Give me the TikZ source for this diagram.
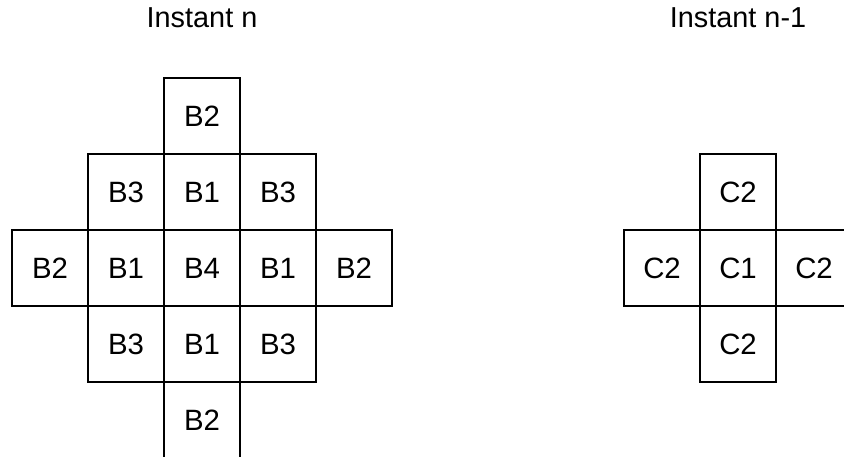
\documentclass[tikz,border=0pt]{standalone}
\usepackage{fontspec}
\setmainfont{Liberation Sans}
\usepackage{tikz}
\usetikzlibrary{positioning}
\tikzstyle{cell} = [rectangle, draw, line width=0.75pt, minimum size=1cm, inner sep=0pt, outer sep=0pt, font=\fontsize{11}{13}\selectfont]
\tikzstyle{title} = [font=\fontsize{10.8}{13}\selectfont]

\begin{document}
\begin{tikzpicture}[node distance = 0cm]
    \useasboundingbox (0,0) rectangle (11.105,6.039);
    % bottom row runs off the page
    \clip (0,0.03) rectangle (11.105,6.039);

    % Current instant
    \node [cell] (b4) at (2.658,2.513) {B4};
    \node [cell, above=of b4] (b1n) {B1};
    \node [cell, below=of b4] (b1s) {B1};
    \node [cell, left=of b4] (b1w) {B1};
    \node [cell, right=of b4] (b1e) {B1};
    \node [cell, above=of b1n] (b2n) {B2};
    \node [cell, below=of b1s] (b2s) {B2};
    \node [cell, left=of b1w] (b2w) {B2};
    \node [cell, right=of b1e] (b2e) {B2};
    \node [cell, left=of b1n] (b3nw) {B3};
    \node [cell, right=of b1n] (b3ne) {B3};
    \node [cell, left=of b1s] (b3sw) {B3};
    \node [cell, right=of b1s] (b3se) {B3};

    % Previous instant
    \node [cell] (c1) at (9.711,2.513) {C1};
    \node [cell, above=of c1] (c2n) {C2};
    \node [cell, below=of c1] (c2s) {C2};
    \node [cell, left=of c1] (c2w) {C2};
    \node [cell, right=of c1] (c2e) {C2};

    % Headings
    \node [title] (now) at (2.658,5.80) {Instant n};
    \node [title] (prev) at (9.711,5.80) {Instant n-1};
\end{tikzpicture}
\end{document}
